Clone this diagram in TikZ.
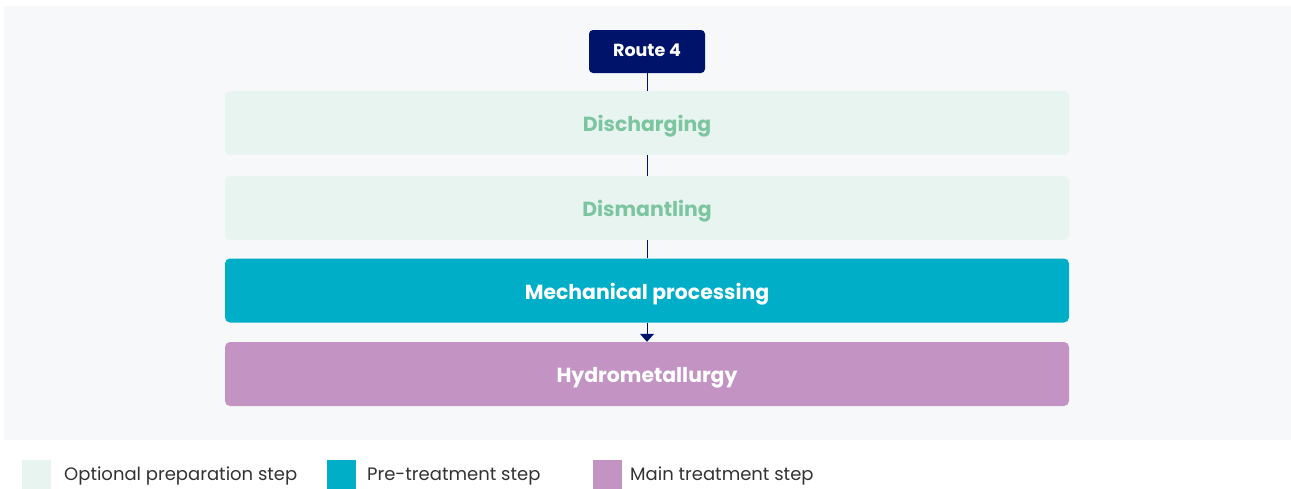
\documentclass[tikz,border=0pt]{standalone}
\usepackage{fontspec}
\setmainfont{Poppins}
\usetikzlibrary{arrows.meta}
\definecolor{navy}{HTML}{00136A}
\definecolor{optfill}{HTML}{E8F4EF}
\definecolor{opttext}{HTML}{7CC5A0}
\definecolor{preblue}{HTML}{00AFC7}
\definecolor{mainpurple}{HTML}{C393C3}
\definecolor{panel}{HTML}{F7F8FA}
\definecolor{legendtext}{HTML}{333333}
\tikzset{
  stepbox/.style={rounded corners=5pt, minimum width=844pt, minimum height=64pt,
    inner sep=0pt, text height=17.5pt, text depth=0pt,
    font=\bfseries\fontsize{20.4}{24}\selectfont},
  optbox/.style={stepbox, fill=optfill, text=opttext},
  prebox/.style={stepbox, fill=preblue, text=white},
  mainbox/.style={stepbox, fill=mainpurple, text=white},
  routebox/.style={rounded corners=4pt, fill=navy, text=white, minimum width=116pt,
    minimum height=43pt, inner sep=0pt, text height=10.5pt, text depth=0pt,
    font=\bfseries\fontsize{17.5}{21}\selectfont},
  link/.style={navy, line width=1pt},
  swatch/.style={minimum size=29pt, inner sep=0pt},
  legendlabel/.style={anchor=west, inner sep=0pt, text=legendtext,
    text height=13.4pt, text depth=0pt, font=\fontsize{18}{22}\selectfont}
}
\begin{document}
\begin{tikzpicture}[x=1pt, y=-1pt]
  \useasboundingbox (0,0) rectangle (1291,488);
  \fill[white] (0,0) rectangle (1291,488);
  % grey panel behind the flow
  \fill[panel] (4,6) rectangle (1291,440);

  % process steps
  \node[routebox] (route) at (647,51.5) {Route 4};
  \node[optbox] (disch) at (647,123) {Discharging};
  \node[optbox] (dism) at (647,208) {Dismantling};
  \node[prebox] (mech) at (647,290.5) {Mechanical processing};
  \node[mainbox] (hydro) at (647,374) {Hydrometallurgy};

  % connectors
  \draw[link] (route) -- (disch);
  \draw[link] (disch) -- (dism);
  \draw[link] (dism) -- (mech);
  \draw[link, -{Triangle[length=8pt, width=14pt]}] (mech) -- (hydro);

  % legend
  \node[swatch, fill=optfill] (sw1) at (36.5,474) {};
  \node[legendlabel] (lg1) at (64,474) {Optional preparation step};
  \node[swatch, fill=preblue] (sw2) at (341.5,474) {};
  \node[legendlabel] (lg2) at (367,474) {Pre-treatment step};
  \node[swatch, fill=mainpurple] (sw3) at (607.5,474) {};
  \node[legendlabel] (lg3) at (630,474) {Main treatment step};
\end{tikzpicture}
\end{document}
